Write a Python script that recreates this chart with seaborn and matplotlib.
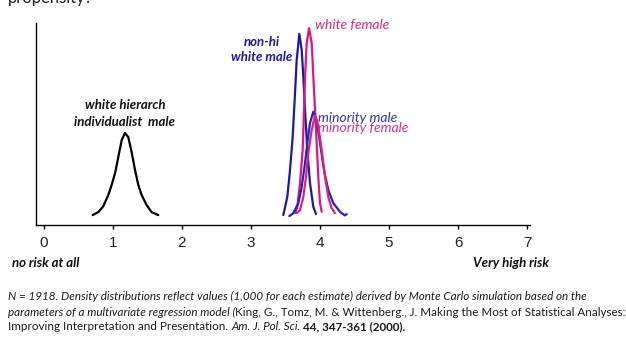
import matplotlib
matplotlib.use("Agg")
import matplotlib.pyplot as plt
import seaborn as sns
import pandas as pd

# ---------------- data ----------------
groups = ["white hierarch individualist male", "non-hi white male",
          "white female", "minority male", "minority female"]

black_x = [0.705, 0.787, 0.86, 0.932, 0.98, 1.03, 1.077, 1.126, 1.174, 1.222,
           1.27, 1.32, 1.367, 1.415, 1.488, 1.56, 1.657]
black_y = [0.03, 0.12, 0.30, 0.64, 0.94, 1.30, 1.79, 2.30, 2.52, 2.39,
           1.94, 1.39, 0.94, 0.64, 0.33, 0.12, 0.03]

nhwm_x = [3.468, 3.526, 3.565, 3.604, 3.638, 3.662, 3.700, 3.735, 3.758, 3.783,
          3.816, 3.855, 3.903, 3.942]
nhwm_y = [0.03, 0.58, 1.39, 2.40, 3.73, 4.73, 5.52, 5.03, 4.22, 3.21,
          2.00, 1.00, 0.28, 0.06]

wf_x = [3.638, 3.671, 3.710, 3.749, 3.768, 3.783, 3.807, 3.841, 3.880, 3.903,
        3.928, 3.952, 3.975, 4.000, 4.025]
wf_y = [0.09, 0.28, 1.00, 2.00, 3.21, 4.22, 5.24, 5.69, 5.24, 4.22,
        3.21, 2.21, 1.19, 0.39, 0.13]

mm_x = [3.555, 3.613, 3.686, 3.735, 3.783, 3.816, 3.855, 3.903, 3.952, 4.000,
        4.058, 4.120, 4.193, 4.290, 4.360, 4.387]
mm_y = [0.00, 0.09, 0.39, 0.89, 1.61, 2.21, 2.82, 3.16, 2.91, 2.21,
        1.39, 0.79, 0.39, 0.13, 0.02, 0.06]

mf_x = [3.662, 3.710, 3.758, 3.797, 3.830, 3.880, 3.928, 3.975, 4.025, 4.072,
        4.120, 4.169, 4.217]
mf_y = [0.09, 0.18, 0.58, 1.19, 1.91, 2.61, 3.06, 2.71, 2.00, 1.19,
        0.58, 0.24, 0.09]

tick_values = [0, 1, 2, 3, 4, 5, 6, 7]
tick_labels = ["0", "1", "2", "3", "4", "5", "6", "7"]
left_label = "no risk at all"
right_label = "Very high risk"

# ---------------- build long table ----------------
frames = []
for g, xs, ys in zip(groups, [black_x, nhwm_x, wf_x, mm_x, mf_x],
                     [black_y, nhwm_y, wf_y, mm_y, mf_y]):
    frames.append(pd.DataFrame({"risk": xs, "density": ys, "group": g}))
df = pd.concat(frames, ignore_index=True)

BLUE = "#1a1aa8"
PINK = "#e0167f"
palette = {groups[0]: "black", groups[1]: BLUE, groups[2]: PINK,
           groups[3]: "#2424b0", groups[4]: "#dc1f86"}

sns.set_theme(style="white")
plt.rcParams["font.family"] = ["Lato", "DejaVu Sans"]

W, H = 626, 338
fig = plt.figure(figsize=(W / 100, H / 100), dpi=100)
fig.patch.set_facecolor("white")


def fx(px):
    return px / W


def fy(py):
    return 1 - py / H


ax = fig.add_axes([fx(35.7), fy(225), fx(530) - fx(35.7), fy(23) - fy(225)])

sns.lineplot(data=df, x="risk", y="density", hue="group", palette=palette,
             hue_order=groups, sort=False, estimator=None, legend=False,
             linewidth=1.6, ax=ax)

ax.set_xlim(-0.12, 7.043)
ax.set_ylim(-0.27, 5.85)
ax.set_xlabel("")
ax.set_ylabel("")
ax.set_yticks([])
ax.set_xticks(tick_values)
ax.set_xticklabels(tick_labels, fontsize=11, color="#222222",
                   family=["Liberation Sans Narrow", "Liberation Sans", "DejaVu Sans"])
ax.tick_params(axis="x", direction="out", length=3, width=1, color="black",
               pad=5, bottom=True)
for s in ["top", "right"]:
    ax.spines[s].set_visible(False)
for s in ["left", "bottom"]:
    ax.spines[s].set_color("black")
    ax.spines[s].set_linewidth(1.0)
ax.set_facecolor("white")

# ---------------- curve labels ----------------
fig.text(fx(125), fy(105), "white hierarch", ha="center", va="center",
         fontsize=9.5, style="italic", weight="bold", color="#111111")
fig.text(fx(124), fy(121.5), "individualist  male", ha="center", va="center",
         fontsize=9.5, style="italic", weight="bold", color="#111111")
fig.text(fx(262), fy(41.5), "non-hi", ha="center", va="center",
         fontsize=9.5, style="italic", weight="bold", color="#1a1a9a")
fig.text(fx(262), fy(57), "white male", ha="center", va="center",
         fontsize=9.5, style="italic", weight="bold", color="#1a1a9a")
fig.text(fx(315), fy(25), "white female", ha="left", va="center",
         fontsize=10, style="italic", color="#d8287c")
fig.text(fx(318), fy(118), "minority male", ha="left", va="center",
         fontsize=10, style="italic", color="#3232a8")
fig.text(fx(318), fy(128), "minority female", ha="left", va="center",
         fontsize=10, style="italic", color="#d0348a")

# axis end labels
fig.text(fx(12), fy(263), left_label, ha="left", va="center",
         fontsize=9.5, style="italic", weight="bold", color="#111111")
fig.text(fx(549), fy(263), right_label, ha="right", va="center",
         fontsize=9.5, style="italic", weight="bold", color="#111111")

# partially cut heading at the top
fig.text(fx(8), fy(3), "propensity?", ha="left", va="baseline",
         fontsize=12, color="#222222")

# ---------------- footnote with mixed styles ----------------
renderer = fig.canvas.get_renderer()
note_lines = [
    [("N = 1918. Density distributions reflect values (1,000 for each estimate) "
      "derived by Monte Carlo simulation based on the", "italic", "normal")],
    [("parameters of a multivariate regression model (", "italic", "normal"),
     ("King, G., Tomz, M. & Wittenberg., J. Making the Most of Statistical Analyses:",
      "normal", "normal")],
    [("Improving Interpretation and Presentation. ", "normal", "normal"),
     ("Am. J. Pol. Sci. ", "italic", "normal"),
     ("44, 347-361 (2000).", "normal", "bold")],
]
note_baselines = [300, 315.5, 330]


def run_width(runs, size):
    total = 0
    for s, st, wt in runs:
        t = fig.text(0, 0, s, fontsize=size, style=st, weight=wt)
        total += t.get_window_extent(renderer=renderer).width
        t.remove()
    return total


base_size = 9
w2 = run_width(note_lines[1], base_size)
note_size = base_size * 614 / w2

for runs, yb in zip(note_lines, note_baselines):
    xpos = 8
    for s, st, wt in runs:
        t = fig.text(fx(xpos), fy(yb), s, fontsize=note_size, style=st,
                     weight=wt, ha="left", va="baseline", color="#1a1a1a")
        xpos += t.get_window_extent(renderer=renderer).width

fig.savefig("out.png", dpi=100, facecolor="white")
